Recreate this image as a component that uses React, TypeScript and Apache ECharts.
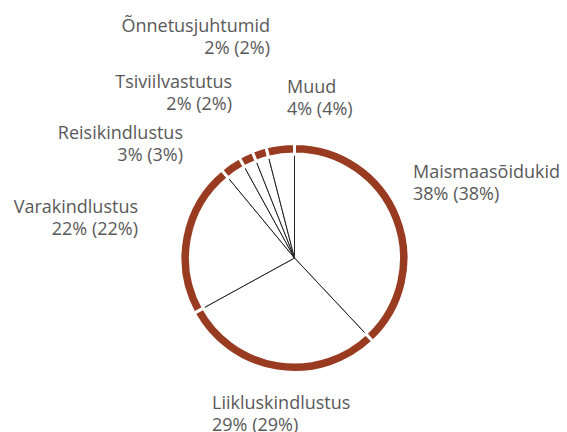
import React, { useEffect, useRef } from "react";
import * as echarts from "echarts";

const categories = [
  "Maismaasõidukid",
  "Liikluskindlustus",
  "Varakindlustus",
  "Reisikindlustus",
  "Tsiviilvastutus",
  "Õnnetusjuhtumid",
  "Muud",
];
const values = [38, 29, 22, 3, 2, 2, 4];

// label layout (style only)
const LABEL_LAYOUT = [
  { x: 413, y: 182, align: "left" },
  { x: 212, y: 413, align: "left" },
  { x: 138, y: 217, align: "right" },
  { x: 183, y: 143, align: "right" },
  { x: 232, y: 92, align: "right" },
  { x: 270, y: 36, align: "right" },
  { x: 287, y: 97, align: "left" },
];

const CENTER = [294.5, 258];
const BROWN = "#983B21";

export default function App() {
  const ref = useRef<HTMLDivElement>(null);
  useEffect(() => {
    if (!ref.current) return;
    const chart = echarts.init(ref.current, undefined, { renderer: "svg" });
    const total = values.reduce((a, b) => a + b, 0);
    const data = categories.map((name, i) => ({ name, value: values[i] }));
    chart.setOption({
      animation: false,
      backgroundColor: "#ffffff",
      series: [
        {
          type: "pie",
          center: CENTER,
          radius: [0, 112],
          startAngle: 90,
          silent: true,
          label: { show: false },
          labelLine: { show: false },
          itemStyle: { color: "#ffffff", borderColor: "#222222", borderWidth: 1 },
          emphasis: { disabled: true },
          data,
          z: 1,
        },
        {
          type: "pie",
          center: CENTER,
          radius: [104, 114.5],
          startAngle: 90,
          silent: true,
          itemStyle: { color: BROWN, borderColor: "#ffffff", borderWidth: 3 },
          emphasis: { disabled: true },
          labelLine: { show: false },
          label: {
            show: true,
            position: "outside",
            color: "#595959",
            fontFamily: "Open Sans",
            fontSize: 18,
            lineHeight: 22,
            overflow: "none",
            formatter: (p: any) => {
              const pct = Math.round((p.value / total) * 100);
              return `${p.name}\n${p.value}% (${pct}%)`;
            },
          },
          labelLayout: (params: any) => {
            const l = LABEL_LAYOUT[params.dataIndex];
            return { x: l.x, y: l.y, align: l.align, verticalAlign: "middle" };
          },
          data,
          z: 2,
        },
      ],
    });
    return () => chart.dispose();
  }, []);
  return <div ref={ref} style={{ width: 567, height: 432, position: "absolute", left: 0, top: 0 }} />;
}
